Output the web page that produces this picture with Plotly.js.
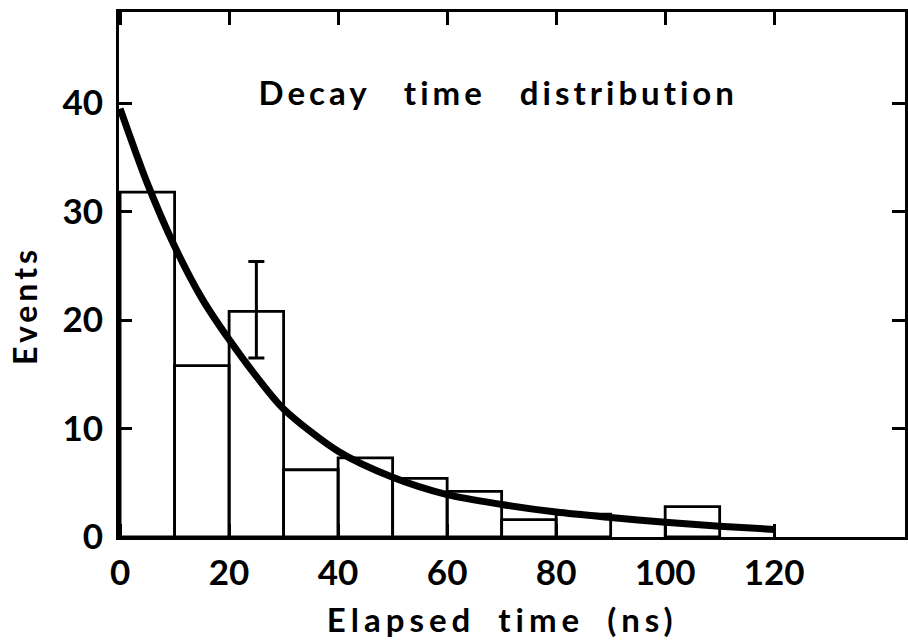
<!DOCTYPE html>
<html>
<head>
<meta charset="utf-8">
<script src="https://cdn.plot.ly/plotly-3.0.1.min.js"></script>
<style>
  html, body { margin: 0; padding: 0; background: #fff; }
  #chart { width: 908px; height: 642px; }
  .annotation[data-index="0"] .annotation-text { letter-spacing: 4px; word-spacing: 22px; }
  .annotation[data-index="1"] .annotation-text { letter-spacing: 5px; word-spacing: 10px; }
  .annotation[data-index="2"] .annotation-text { letter-spacing: 4px; }
</style>
</head>
<body>
<div id="chart"></div>
<script>
// Histogram bins (ns) and event counts
const binCenters = [5, 15, 25, 35, 45, 55, 65, 75, 85, 105];
const binCounts  = [31.8, 15.8, 20.8, 6.2, 7.3, 5.4, 4.2, 1.6, 2.1, 2.8];
const binWidth = 10;

// Representative error bar on the 20–30 ns bin
const errX = [25];
const errY = [20.8];
const errPlus = [4.6];
const errMinus = [4.3];

// Fitted decay curve
const fitT = [0, 5, 10, 15, 20, 25, 30, 40, 50, 60, 70, 80, 90, 100, 110, 120];
const fitN = [39.5, 32.6, 26.8, 22.0, 18.2, 14.8, 11.8, 7.9, 5.5, 3.9, 3.0, 2.3, 1.8, 1.35, 1.0, 0.7];

const xTicks = [0, 20, 40, 60, 80, 100, 120];
const yTicks = [0, 10, 20, 30, 40];

const titleText = 'Decay time distribution';
const xTitle = 'Elapsed time (ns)';
const yTitle = 'Events';

const traces = [
  {
    type: 'bar',
    x: binCenters,
    y: binCounts,
    width: binWidth,
    marker: { color: 'rgba(255,255,255,0)', line: { color: '#000', width: 2.8 } },
    hoverinfo: 'x+y'
  },
  {
    type: 'scatter',
    mode: 'markers',
    x: errX,
    y: errY,
    marker: { size: 1, color: 'rgba(0,0,0,0)' },
    error_y: { type: 'data', symmetric: false, array: errPlus, arrayminus: errMinus,
               color: '#000', thickness: 3, width: 8 }
  },
  {
    type: 'scatter',
    mode: 'lines',
    x: fitT,
    y: fitN,
    line: { color: '#000', width: 7, shape: 'spline', smoothing: 0.8 }
  }
];

const axisFont = 'Lato, "DejaVu Sans", sans-serif';

const layout = {
  width: 908,
  height: 642,
  margin: { l: 119, r: 3, t: 12, b: 105 },
  paper_bgcolor: '#fff',
  plot_bgcolor: '#fff',
  showlegend: false,
  bargap: 0,
  xaxis: {
    range: [-0.2, 144],
    tickvals: xTicks,
    ticktext: xTicks.map(String),
    ticks: 'inside',
    ticklen: 13,
    tickwidth: 3,
    tickcolor: '#000',
    showline: true,
    linewidth: 3,
    linecolor: '#000',
    mirror: 'ticks',
    showgrid: false,
    zeroline: false,
    ticklabelstandoff: 3,
    tickfont: { family: axisFont, size: 35, weight: 'bold', color: '#000' }
  },
  yaxis: {
    range: [0, 48.4],
    tickvals: yTicks,
    ticktext: yTicks.map(String),
    ticks: 'inside',
    ticklen: 13,
    tickwidth: 3,
    tickcolor: '#000',
    showline: true,
    linewidth: 3,
    linecolor: '#000',
    mirror: 'ticks',
    showgrid: false,
    zeroline: false,
    ticklabelstandoff: 6,
    tickfont: { family: axisFont, size: 35, weight: 'bold', color: '#000' }
  },
  annotations: [
    {
      text: titleText,
      xref: 'x', yref: 'y',
      x: 69.4, y: 41,
      showarrow: false,
      xanchor: 'center', yanchor: 'middle',
      font: { family: axisFont, size: 33, weight: 'bold', color: '#000' }
    },
    {
      text: xTitle,
      xref: 'paper', yref: 'paper',
      x: 0.487, y: -0.156,
      showarrow: false,
      xanchor: 'center', yanchor: 'middle',
      font: { family: axisFont, size: 33, weight: 'bold', color: '#000' }
    },
    {
      text: yTitle,
      xref: 'paper', yref: 'paper',
      x: -0.1196, y: 0.442,
      textangle: -90,
      showarrow: false,
      xanchor: 'center', yanchor: 'middle',
      font: { family: axisFont, size: 32, weight: 'bold', color: '#000' }
    }
  ]
};

Plotly.newPlot('chart', traces, layout, { displayModeBar: false, staticPlot: true });
</script>
</body>
</html>
